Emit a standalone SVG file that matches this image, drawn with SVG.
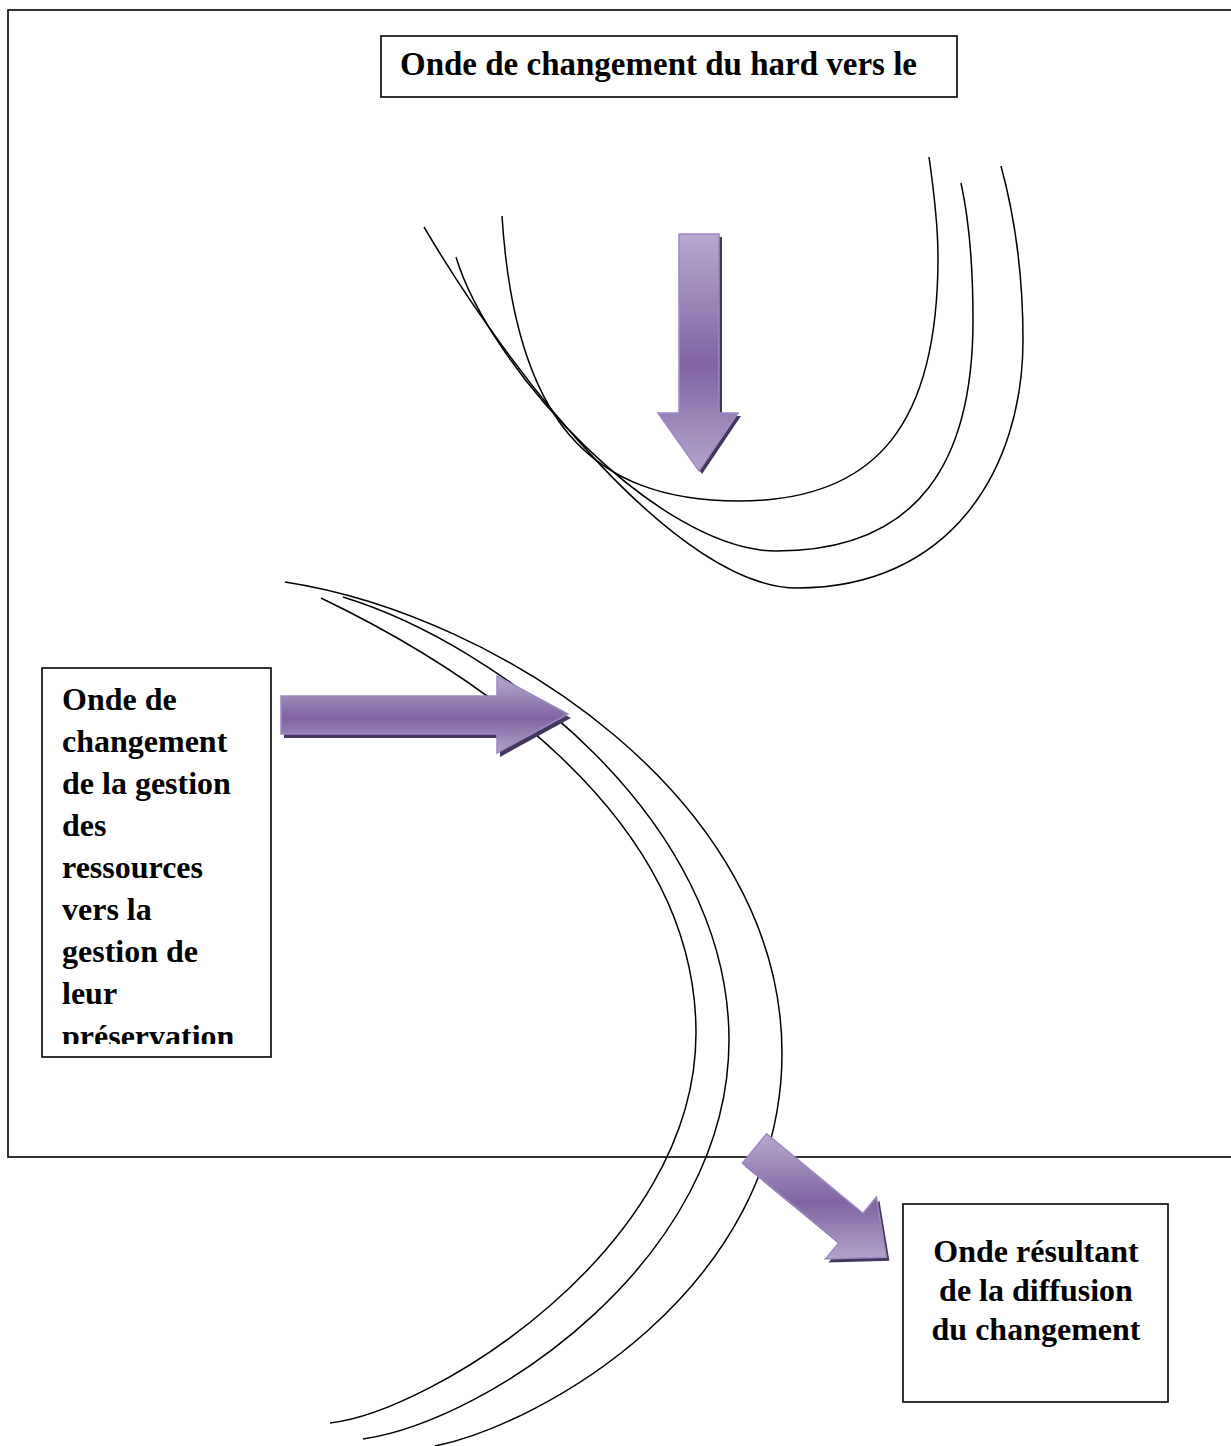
<svg xmlns="http://www.w3.org/2000/svg" width="1231" height="1446" viewBox="0 0 1231 1446">
<style>
.box{fill:#fff;stroke:#000;stroke-width:1.6}
.frame{fill:none;stroke:#000;stroke-width:1.6}
.wave{fill:none;stroke:#000;stroke-width:1.5}
.lbl{font-family:"Liberation Serif","Times New Roman",serif;font-weight:bold;font-size:32px;fill:#000}
.arr{stroke:#9d89c2;stroke-width:1.5;stroke-linejoin:miter}
.shd{fill:#45365f}
</style>
<defs>
<linearGradient id="g" x1="0" y1="0" x2="0" y2="1">
<stop offset="0" stop-color="#b7a9ce"/>
<stop offset="0.55" stop-color="#8064a2"/>
<stop offset="1" stop-color="#b3a4cb"/>
</linearGradient>
<clipPath id="lc"><rect x="42" y="668" width="229" height="376"/></clipPath>
</defs>
<rect id="frame" class="frame" x="8" y="10" width="1240" height="1147"/>
<g id="connectors">
<g id="waves-top">
<path class="wave" d="M502,216 C515,420 590,501 739,501 C880,501 938,420 938,257 C938,220 933,185 929,157"/>
<path class="wave" d="M456,257 C490,370 660,551 776,551 C920,551 973,460 973,320 C973,260 968,215 961,183"/>
<path class="wave" d="M424,227 C514,380 680,588 797,588 C950,588 1023,470 1023,340 C1023,270 1013,210 1001,166"/>
</g>
<g id="waves-bottom">
<path class="wave" d="M285,582 C500,615 782,800 782,1053 C782,1290 540,1425 435,1446"/>
<path class="wave" d="M343,597 C500,645 729,820 729,1040 C729,1260 490,1420 363,1439"/>
<path class="wave" d="M321,598 C460,665 696,810 696,1033 C696,1250 430,1412 330,1423"/>
</g>
<g id="arrow-down">
<polygon class="shd" points="682,237 722,237 722,416 741,416 702,474 661,416 682,416"/>
<polygon class="arr" fill="url(#g)" points="679,234 719,234 719,413 738,413 699,471 658,413 679,413"/>
</g>
<g id="arrow-right">
<polygon class="shd" points="284,700 500,700 500,680 571,718 500,757 500,738 284,738"/>
<polygon class="arr" fill="url(#g)" points="281,696 497,696 497,676 568,714 497,753 497,734 281,734"/>
</g>
<g id="arrow-diag">
<polygon class="shd" points="769.6,1137.3 866,1216.8 879.4,1200.6 889.4,1260.8 828.5,1262.4 841.9,1246.2 745.4,1166.7"/>
<polygon class="arr" fill="url(#g)" points="766.6,1133.8 863,1213.3 876.4,1197.1 886.4,1257.3 825.5,1258.9 838.9,1242.7 742.4,1163.2"/>
</g>
</g>
<g id="node-top">
<rect class="box" x="381" y="36" width="576" height="61"/>
<text class="lbl" x="400" y="75" style="font-size:33px">Onde de changement du hard vers le</text>
</g>
<g id="node-left">
<rect class="box" x="42" y="668" width="229" height="389"/>
<g clip-path="url(#lc)">
<text class="lbl" x="62" y="710">Onde de</text>
<text class="lbl" x="62" y="752">changement</text>
<text class="lbl" x="62" y="794">de la gestion</text>
<text class="lbl" x="62" y="836">des</text>
<text class="lbl" x="62" y="878">ressources</text>
<text class="lbl" x="62" y="920">vers la</text>
<text class="lbl" x="62" y="962">gestion de</text>
<text class="lbl" x="62" y="1004">leur</text>
<text class="lbl" x="62" y="1047">préservation</text>
</g>
</g>
<g id="node-right">
<rect class="box" x="903" y="1204" width="265" height="198"/>
<text class="lbl" x="1036" y="1262" text-anchor="middle">Onde résultant</text>
<text class="lbl" x="1036" y="1301" text-anchor="middle">de la diffusion</text>
<text class="lbl" x="1036" y="1340" text-anchor="middle">du changement</text>
</g>
</svg>
